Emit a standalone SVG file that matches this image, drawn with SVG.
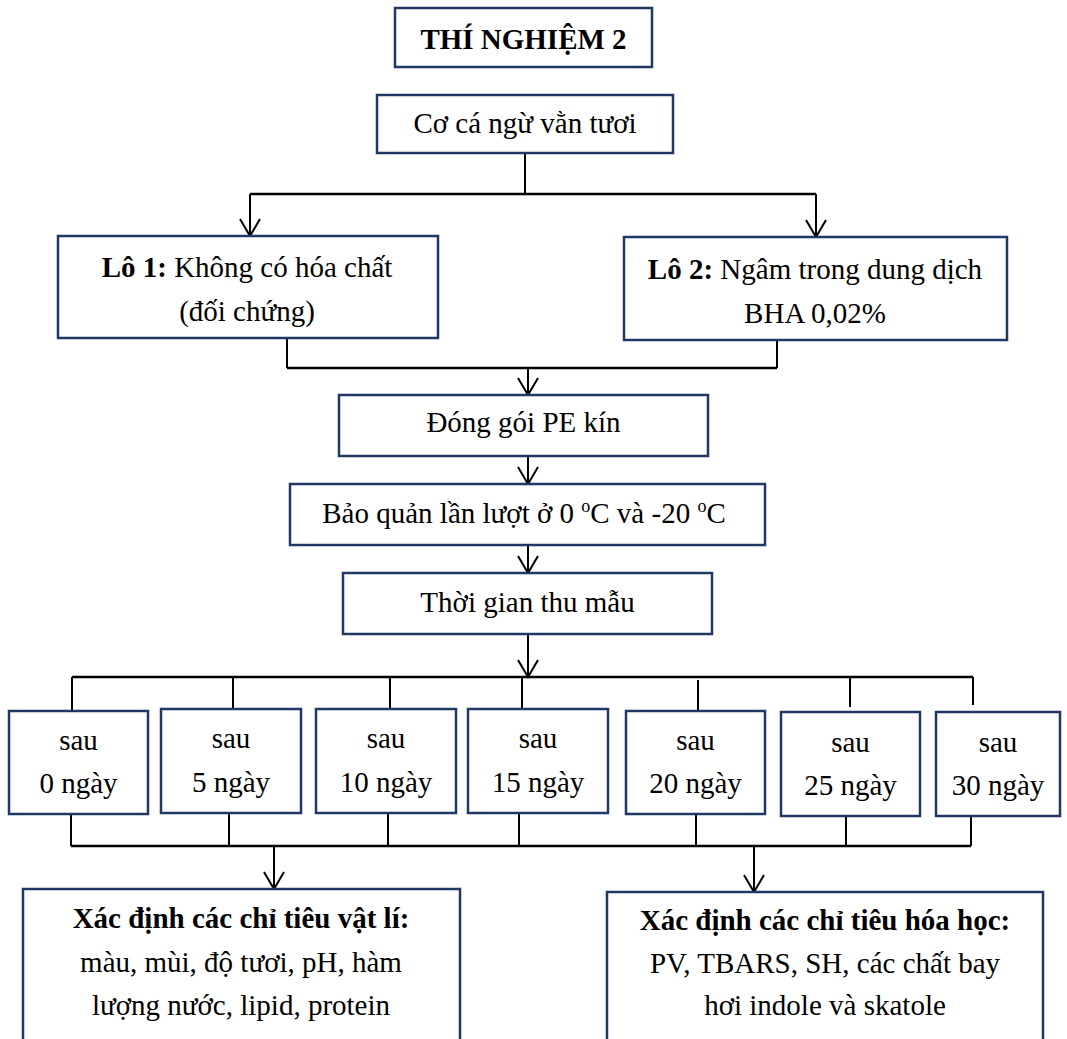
<svg xmlns="http://www.w3.org/2000/svg" width="1067" height="1039" viewBox="0 0 1067 1039">
<style>
.box{fill:#fff;stroke:#1F3864;stroke-width:2.5}
.t{font-family:"Liberation Serif","Times New Roman",serif;font-size:29px;fill:#000;text-anchor:middle}
.b{font-weight:bold}
.ln{stroke:#000;stroke-width:2;fill:none}
.hl{stroke:#000;stroke-width:2.5;fill:none}
</style>
<defs>
<marker id="arr" markerUnits="userSpaceOnUse" markerWidth="20" markerHeight="24" refX="18" refY="11" orient="auto" overflow="visible">
<path d="M1,1 L18,11 L1,21" fill="none" stroke="#000" stroke-width="2"/>
</marker>
</defs>
<rect width="1067" height="1039" fill="#fff"/>
<g id="connectors">
<line class="ln" x1="525" y1="153" x2="525" y2="194"/>
<line class="hl" x1="250" y1="194" x2="816" y2="194"/>
<line class="ln" x1="250" y1="194" x2="250" y2="236" marker-end="url(#arr)"/>
<line class="ln" x1="816" y1="194" x2="816" y2="237" marker-end="url(#arr)"/>
<line class="ln" x1="287" y1="338" x2="287" y2="368"/>
<line class="ln" x1="777" y1="340" x2="777" y2="368"/>
<line class="hl" x1="287" y1="368" x2="777" y2="368"/>
<line class="ln" x1="528" y1="368" x2="528" y2="395" marker-end="url(#arr)"/>
<line class="ln" x1="528" y1="456" x2="528" y2="484" marker-end="url(#arr)"/>
<line class="ln" x1="528" y1="545" x2="528" y2="573" marker-end="url(#arr)"/>
<line class="ln" x1="528" y1="634" x2="528" y2="677" marker-end="url(#arr)"/>
<line class="hl" x1="72" y1="677" x2="973" y2="677"/>
<line class="ln" x1="72" y1="677" x2="72" y2="711"/>
<line class="ln" x1="233" y1="677" x2="233" y2="709"/>
<line class="ln" x1="390" y1="677" x2="390" y2="709"/>
<line class="ln" x1="522" y1="677" x2="522" y2="709"/>
<line class="ln" x1="698" y1="680" x2="698" y2="711"/>
<line class="ln" x1="850" y1="677" x2="850" y2="707"/>
<line class="ln" x1="973" y1="677" x2="973" y2="705"/>
<line class="ln" x1="71" y1="814" x2="71" y2="846"/>
<line class="ln" x1="229" y1="813" x2="229" y2="846"/>
<line class="ln" x1="388" y1="813" x2="388" y2="846"/>
<line class="ln" x1="519" y1="813" x2="519" y2="846"/>
<line class="ln" x1="696" y1="814" x2="696" y2="846"/>
<line class="ln" x1="846" y1="816" x2="846" y2="846"/>
<line class="ln" x1="971" y1="813" x2="971" y2="846"/>
<line class="hl" x1="71" y1="846" x2="971" y2="846"/>
<line class="ln" x1="274" y1="846" x2="274" y2="889" marker-end="url(#arr)"/>
<line class="ln" x1="754" y1="846" x2="754" y2="892" marker-end="url(#arr)"/>
</g>
<g id="title"><rect class="box" x="395" y="8" width="257" height="59"/><text class="t b" x="523.5" y="49">THÍ NGHIỆM 2</text></g>
<g id="raw"><rect class="box" x="377" y="95" width="296" height="58"/><text class="t" x="525" y="133">Cơ cá ngừ vằn tươi</text></g>
<g id="lo1"><rect class="box" x="58" y="236" width="380" height="102"/><text class="t" x="247" y="277"><tspan class="b">Lô 1:</tspan> Không có hóa chất</text><text class="t" x="247" y="321">(đối chứng)</text></g>
<g id="lo2"><rect class="box" x="624" y="237" width="383" height="103"/><text class="t" x="815" y="279"><tspan class="b">Lô 2:</tspan> Ngâm trong dung dịch</text><text class="t" x="815" y="323">BHA 0,02%</text></g>
<g id="pack"><rect class="box" x="339" y="395" width="369" height="61"/><text class="t" x="523.5" y="432">Đóng gói PE kín</text></g>
<g id="store"><rect class="box" x="290" y="484" width="475" height="61"/><text class="t" x="524" y="523">Bảo quản lần lượt ở 0 <tspan dy="-11" font-size="18">o</tspan><tspan dy="11">C và -20 </tspan><tspan dy="-11" font-size="18">o</tspan><tspan dy="11">C</tspan></text></g>
<g id="time"><rect class="box" x="343" y="573" width="369" height="61"/><text class="t" x="527.5" y="612">Thời gian thu mẫu</text></g>
<g id="d0"><rect class="box" x="9" y="711" width="139" height="103"/><text class="t" x="78.5" y="750">sau</text><text class="t" x="78.5" y="793">0 ngày</text></g>
<g id="d5"><rect class="box" x="161" y="709" width="140" height="104"/><text class="t" x="231" y="748">sau</text><text class="t" x="231" y="792">5 ngày</text></g>
<g id="d10"><rect class="box" x="316" y="709" width="140" height="104"/><text class="t" x="386" y="748">sau</text><text class="t" x="386" y="792">10 ngày</text></g>
<g id="d15"><rect class="box" x="468" y="709" width="140" height="104"/><text class="t" x="538" y="748">sau</text><text class="t" x="538" y="792">15 ngày</text></g>
<g id="d20"><rect class="box" x="626" y="711" width="139" height="103"/><text class="t" x="695.5" y="750">sau</text><text class="t" x="695.5" y="793">20 ngày</text></g>
<g id="d25"><rect class="box" x="781" y="712" width="139" height="104"/><text class="t" x="850.5" y="752">sau</text><text class="t" x="850.5" y="795">25 ngày</text></g>
<g id="d30"><rect class="box" x="936" y="712" width="124" height="104"/><text class="t" x="998" y="752">sau</text><text class="t" x="998" y="795">30 ngày</text></g>
<g id="phys"><rect class="box" x="23" y="889" width="437" height="160"/><text class="t" x="241" y="928"><tspan class="b">Xác định các chỉ tiêu vật lí:</tspan></text><text class="t" x="241" y="972">màu, mùi, độ tươi, pH, hàm</text><text class="t" x="241" y="1015">lượng nước, lipid, protein</text></g>
<g id="chem"><rect class="box" x="607" y="892" width="436" height="160"/><text class="t" x="825" y="930"><tspan class="b">Xác định các chỉ tiêu hóa học:</tspan></text><text class="t" x="825" y="973">PV, TBARS, SH, các chất bay</text><text class="t" x="825" y="1015">hơi indole và skatole</text></g>
</svg>
